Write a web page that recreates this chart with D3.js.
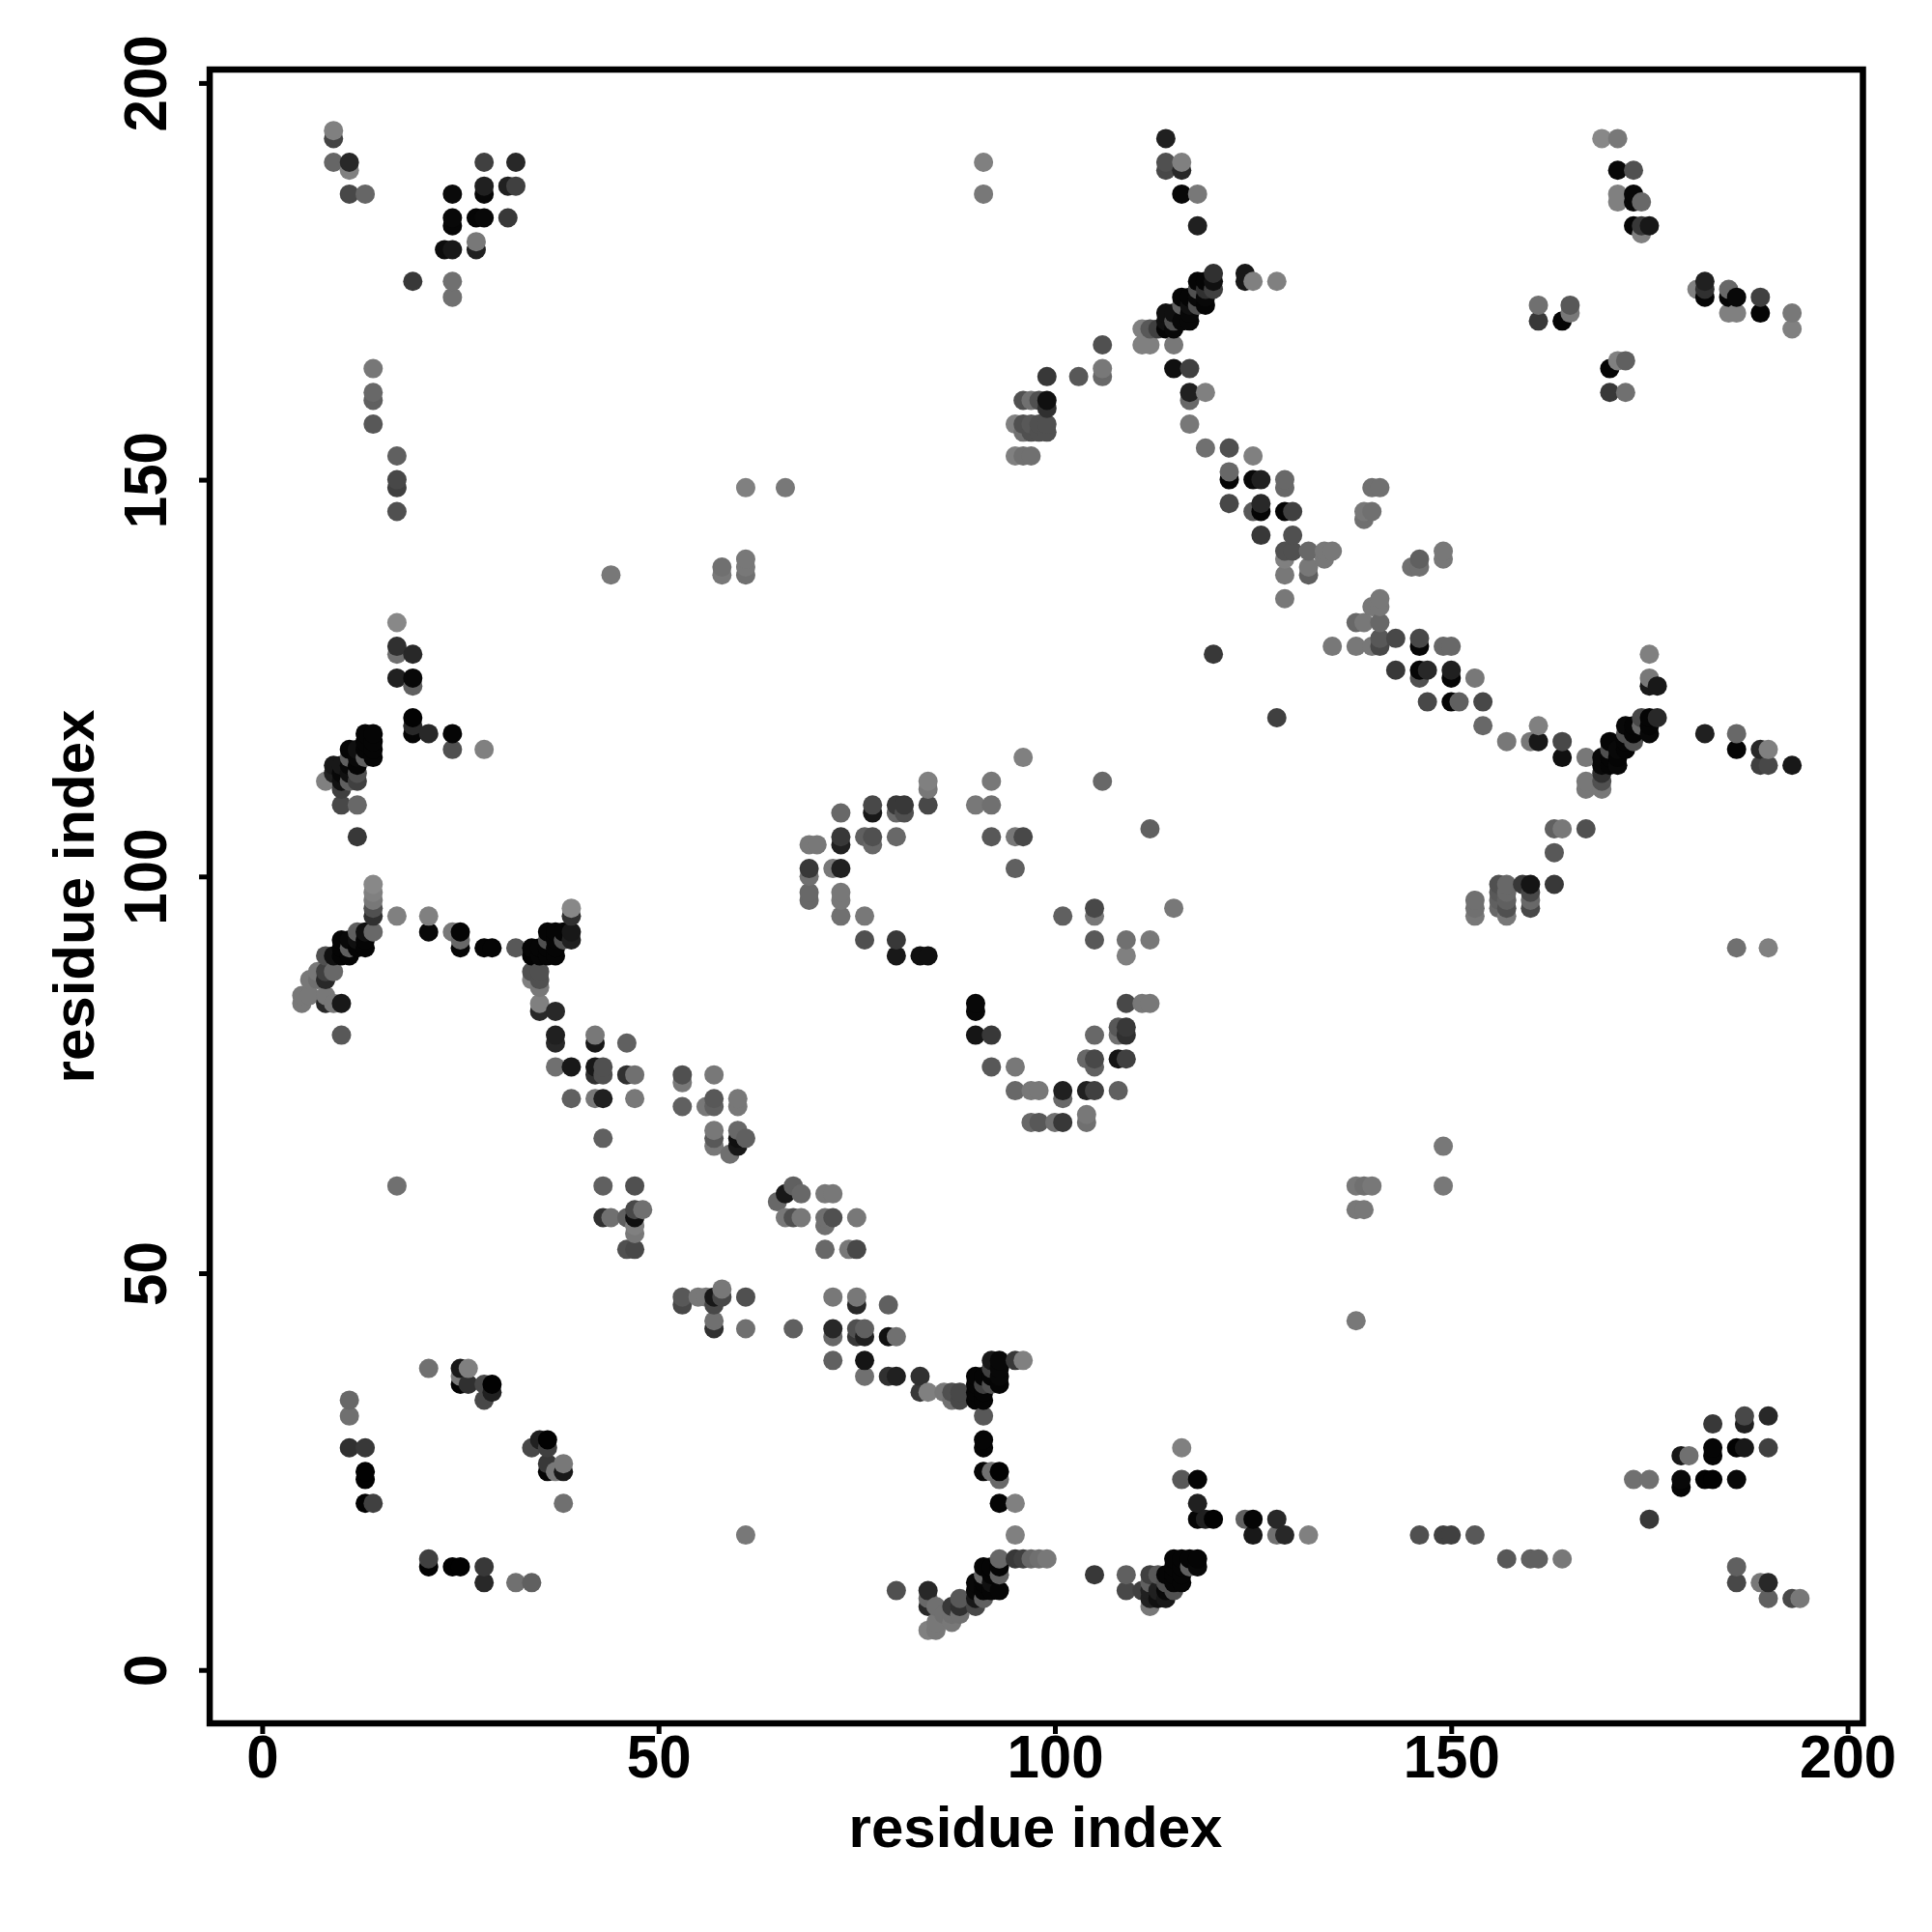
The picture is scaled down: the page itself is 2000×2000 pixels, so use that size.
<!DOCTYPE html>
<html>
<head>
<meta charset="utf-8">
<script src="https://cdn.jsdelivr.net/npm/d3@7"></script>
<style>
html,body{margin:0;padding:0;background:#fff}
svg{display:block}
</style>
</head>
<body>
<svg id="chart" width="2000" height="2000"></svg>
<script>
const tickValuesX = [0, 50, 100, 150, 200];
const tickValuesY = [0, 50, 100, 150, 200];
const xLabel = "residue index";
const yLabel = "residue index";

const columnResidue = [
5,6,7,8,9,10,11,12,13,14,17,19,21,23,24,25,26,27,28,29,31,32,34,35,36,37,38,39,
42,43,44,46,47,48,53,55,56,57,58,59,60,61,65,66,67,68,69,70,71,72,73,74,75,76,77,79,
80,81,83,84,85,86,87,88,90,91,92,93,95,96,97,98,99,100,101,103,104,105,106,108,109,
111,112,113,114,115,116,117,118,119,120,122,124,125,126,128,129,130,132,134,135,138,139,
140,141,143,145,146,147,149,150,151,153,154,156,157,159,160,161,163,164,165,167,169,170,
171,172,173,174,175,176,179,180,181,182,183,185,186,187,189,190,193,194];

const columnPartners = [
[84,85],[85,87],[87,88],[84,85,87,88,90,112],[84,88,90,113,114,190,193,194],
[80,84,90,91,92,109,111,112,113,114],
[28,32,34,90,91,92,112,113,114,115,116,186,189,190],
[91,92,93,105,109,112,113,114,115,116],
[21,24,25,28,91,92,93,115,116,117,118,186],
[21,93,95,96,97,98,99,115,116,117,118,157,160,161,164],
[61,95,125,128,129,132,146,149,150,153],
[118,119,120,124,125,128,175],
[13,14,38,93,95,118],
[179],
[13,93,116,118,173,175,179,182,183,186],
[13,36,37,38,91,92,93],
[36,38],
[179,180,183],
[11,13,34,36,91,116,183,186,187,190],
[35,36,91],
[183,187],
[11,91,187,190],
[11,28,87,88,90,91],
[29,83,84,86,87,88,90,91],
[25,26,28,29,90,91,92,93],
[25,76,79,80,83,90,91,92,93],
[21,25,26,92,93],
[72,76,92,93,95,96],
[72,75,76,79,80],
[57,61,67,72,75,76],
[57,138],
[53,57,75,79],
[53,55,56,57,58,61,72,75],
[58],
[46,47,71,74,75],
[47],
[47,71],
[43,44,46,47,66,67,68,71,72,75],
[47,48,138,139],
[65],
[66,67,68,71,72],
[17,43,47,67,138,139,140,149],
[59],
[57,60,149],
[43,57,61],
[57,60],
[97,98,100,101,104],
[104],
[53,56,57,60],
[39,42,43,47,57,60,101],
[95,97,98,101,104,105,108],
[53],
[42,43,46,47,53,57],
[37,39,42,43,92,95,105],
[104,105,108,109],
[37,42,46],
[10,37,42,90,92,105,108,109],
[108,109],
[35,37,90],
[5,8,9,10,35,90,109,111,112],
[5,6,8],
[7,35],
[6,7,8,34,35],
[7,8,9,34,35],
[8,9,10,11,34,35,36,37,80,83,84,109],
[9,10,11,12,13,25,28,29,32,34,35,36,37,186,190],
[10,11,12,13,25,36,37,38,39,76,80,105,109,112],
[10,12,13,14,21,24,25,36,37,38,39],
[14,17,21,39,73,76,101,105,153,157],
[14,39,105,115,153,156,157,160],
[14,69,73,153,156,157,160],
[14,69,73,156,157,160],
[14,156,157,159,160,163],
[69],
[69,72,73,95],
[163],
[69,70,73,77],
[12,73,76,77,80,92,95,96],
[112,163,164,167],
[73,77,80,81],
[10,12,77,80,81,84,90,92],
[10,84,167,169],
[8,9,10,11,12,84,92,106,167,169],
[9,10,12,169],
[9,10,11,12,169,170,171,189,190,193],
[10,11,12,13,14,96,164,167,169,170,171],
[11,12,13,14,24,28,170,172,173,186,189,190],
[13,14,157,160,161,164,170,171,172,173],
[13,14,19,21,24,172,173,174,175,182,186],
[19,154,161,172,173,174,175],
[19,128,174,175,176],
[147,150,151,154],
[19,175,176],
[17,19,146,150,153,175],
[143,146,147,150],
[17,19,120,175],
[17,135,138,140,141,146,149,150],
[141,143,146],
[17,138,139,141],
[140,141],
[129,141],
[44,58,61,129,132],
[58,61,132,145,146],
[61,129,134,146,149],
[129,130,132,134,135,149],
[126,130],
[139],
[17,125,126,129,130,139,140],
[122,126],
[17,61,66,129,140,141],
[17,122,125,126,129],
[122],
[17,95,96,97,125],
[119,122],
[96,97,98,99],
[14,95,96,97,98,99,117],
[99],
[14,96,97,98,99,117],
[14,117,119,170,172],
[99,103,106],
[14,106,115,117,170],
[171,172],
[106,111,112,115],
[111,112,113,114,115,193],
[114,115,116,117,161,164],
[114,115,116,165,185,186,189,193],
[116,117,118,119,161,165],
[24,117,118,119,182,185,186,189],
[119,120,181,182,185],
[19,24,118,119,120,124,125,128,182],
[120,124],
[23,24,27],
[27],
[174],
[24,118,173,174,175],
[24,27,28,31],
[171,173,174],
[11,13,24,28,91,116,118,171,173],
[28,31,32],
[11,114,116,171,173],
[9,11,28,32,91,114,116],
[9,114,169,171],
[9]];

const columnShades = [
[0x78,0x78],[0x78,0x78],[0x70,0x78],[0x28,0x78,0x28,0x40,0x50,0x80],[0x78,0x68,0x10,0x20,0x18,0x66,0x44,0x80],
[0x58,0x18,0x05,0x05,0x05,0x48,0x40,0x10,0x08,0x18],
[0x30,0x70,0x68,0x05,0x60,0x08,0x60,0x10,0x08,0x60,0x05,0x48,0x80,0x28],
[0x05,0x10,0x60,0x38,0x68,0x40,0x50,0x05,0x08,0x10],
[0x02,0x02,0x02,0x38,0x05,0x05,0x10,0x60,0x05,0x05,0x05,0x66],
[0x40,0x68,0x30,0x50,0x78,0x80,0x88,0x05,0x05,0x05,0x05,0x58,0x60,0x68,0x77],
[0x70,0x80,0x20,0x70,0x30,0x88,0x50,0x40,0x48,0x60],
[0x05,0x28,0x02,0x60,0x08,0x28,0x38],
[0x02,0x40,0x70,0x08,0x80,0x28],
[0x0c],
[0x02,0x78,0x50,0x05,0x70,0x70,0x18,0x06,0x08,0x0a],
[0x02,0x02,0x78,0x18,0x05,0x68,0x05],
[0x30,0x80],
[0x20,0x78,0x05],
[0x28,0x38,0x48,0x48,0x05,0x80,0x08,0x08,0x20,0x40],
[0x20,0x02,0x05],
[0x38,0x20],
[0x70,0x58,0x40,0x28],
[0x60,0x48,0x80,0x50,0x02,0x05],
[0x20,0x28,0x80,0x78,0x50,0x50,0x05,0x05],
[0x05,0x38,0x40,0x02,0x05,0x05,0x50,0x05],
[0x78,0x70,0x28,0x20,0x28,0x05,0x05,0x05,0x05],
[0x70,0x18,0x78,0x50,0x05],
[0x60,0x18,0x20,0x18,0x30,0x88],
[0x78,0x30,0x18,0x18,0x78],
[0x30,0x60,0x60,0x20,0x50,0x50],
[0x70,0x78],
[0x50,0x60,0x30,0x60],
[0x48,0x78,0x80,0x10,0x48,0x50,0x78,0x70],
[0x70],
[0x48,0x58,0x60,0x78,0x50],
[0x78],
[0x78,0x78],
[0x30,0x70,0x48,0x18,0x78,0x58,0x78,0x60,0x58,0x78],
[0x48,0x78,0x78,0x70],
[0x70],
[0x18,0x10,0x68,0x78,0x78],
[0x78,0x70,0x50,0x60,0x70,0x78,0x78,0x80],
[0x68],
[0x78,0x18,0x78],
[0x60,0x50,0x60],
[0x78,0x68],
[0x68,0x68,0x70,0x38,0x78],
[0x78],
[0x68,0x70,0x70,0x78],
[0x60,0x68,0x28,0x78,0x50,0x78,0x78],
[0x70,0x78,0x78,0x20,0x20,0x38,0x68],
[0x78],
[0x38,0x50,0x28,0x78,0x48,0x78],
[0x70,0x15,0x20,0x60,0x50,0x78,0x60],
[0x68,0x50,0x18,0x48],
[0x30,0x10,0x60],
[0x50,0x20,0x70,0x18,0x38,0x68,0x68,0x38],
[0x50,0x38],
[0x38,0x30,0x10],
[0x80,0x28,0x68,0x28,0x80,0x10,0x48,0x78,0x80],
[0x78,0x78,0x70],
[0x70,0x78],
[0x78,0x70,0x38,0x70,0x50],
[0x70,0x30,0x58,0x48,0x48],
[0x48,0x18,0x08,0x08,0x05,0x05,0x05,0x05,0x15,0x08,0x08,0x78],
[0x60,0x05,0x05,0x68,0x05,0x05,0x05,0x05,0x58,0x05,0x05,0x40,0x05,0x78,0x80],
[0x05,0x10,0x05,0x05,0x70,0x50,0x05,0x40,0x18,0x58,0x38,0x58,0x70,0x78],
[0x05,0x60,0x05,0x68,0x05,0x68,0x02,0x05,0x08,0x08,0x08],
[0x38,0x80,0x80,0x38,0x68,0x78,0x60,0x78,0x80,0x80],
[0x40,0x80,0x48,0x80,0x70,0x70,0x50,0x50],
[0x68,0x68,0x78,0x70,0x50,0x58,0x70],
[0x70,0x58,0x78,0x50,0x50,0x50],
[0x78,0x50,0x50,0x30,0x10,0x38],
[0x70],
[0x38,0x68,0x20,0x60],
[0x58],
[0x70,0x78,0x20,0x68],
[0x38,0x40,0x60,0x48,0x68,0x58,0x78,0x48],
[0x68,0x68,0x78,0x50],
[0x60,0x15,0x70,0x58],
[0x48,0x60,0x40,0x30,0x38,0x48,0x80,0x70],
[0x40,0x78,0x80,0x80],
[0x78,0x20,0x20,0x60,0x40,0x78,0x78,0x60,0x80,0x58],
[0x10,0x20,0x58,0x40],
[0x18,0x08,0x50,0x05,0x05,0x10,0x10,0x48,0x50,0x20],
[0x50,0x05,0x05,0x05,0x05,0x78,0x10,0x78,0x08,0x50,0x10],
[0x05,0x05,0x05,0x05,0x58,0x80,0x08,0x60,0x05,0x08,0x28,0x80],
[0x60,0x05,0x78,0x68,0x20,0x40,0x08,0x08,0x10,0x05],
[0x08,0x05,0x05,0x20,0x05,0x50,0x08,0x50,0x05,0x20,0x78],
[0x20,0x70,0x80,0x05,0x08,0x30,0x05],
[0x02,0x38,0x40,0x10,0x30],
[0x48,0x05,0x68,0x50],
[0x60,0x18,0x18],
[0x18,0x05,0x58,0x08,0x80,0x80],
[0x38,0x05,0x28,0x20],
[0x70,0x28,0x40,0x80],
[0x28,0x78,0x78,0x80,0x50,0x05,0x68,0x68],
[0x50,0x50,0x40],
[0x80,0x60,0x78,0x68],
[0x78,0x78],
[0x78,0x78],
[0x78,0x78,0x78,0x78,0x68],
[0x78,0x70,0x78,0x70,0x78],
[0x78,0x78,0x78,0x70,0x70],
[0x48,0x58,0x68,0x78,0x78,0x70],
[0x38,0x48],
[0x70],
[0x50,0x50,0x05,0x05,0x48,0x70,0x60],
[0x48,0x28],
[0x40,0x78,0x78,0x68,0x78,0x78],
[0x40,0x05,0x05,0x20,0x68],
[0x60],
[0x58,0x78,0x70,0x70,0x78],
[0x68,0x48],
[0x68,0x60,0x58,0x50],
[0x58,0x78,0x50,0x60,0x68,0x68,0x78],
[0x38],
[0x60,0x48,0x68,0x48,0x15,0x78],
[0x60,0x18,0x80,0x38,0x70],
[0x38,0x58,0x60],
[0x78,0x78,0x10,0x48,0x05],
[0x78,0x58],
[0x50,0x78,0x78,0x78],
[0x78,0x50,0x30,0x08,0x08,0x88],
[0x05,0x05,0x50,0x05,0x38,0x05],
[0x08,0x05,0x08,0x80,0x80,0x80,0x08,0x78],
[0x05,0x05,0x50,0x08,0x70,0x60],
[0x70,0x50,0x05,0x05,0x05,0x08,0x08,0x50],
[0x68,0x48,0x80,0x38,0x68],
[0x38,0x70,0x08,0x05,0x05,0x18,0x78,0x80,0x18],
[0x28,0x18],
[0x05,0x08,0x18],
[0x70],
[0x80],
[0x02,0x20,0x05,0x30,0x20],
[0x02,0x05,0x05,0x38],
[0x80,0x05,0x68],
[0x48,0x60,0x08,0x02,0x70,0x05,0x68,0x80,0x08],
[0x18,0x20,0x48],
[0x78,0x40,0x28,0x05,0x40],
[0x60,0x28,0x40,0x28,0x80,0x48,0x80],
[0x48,0x18,0x80,0x78],
[0x78]];

const contacts = columnResidue.flatMap((residue, c) =>
  columnPartners[c].map((partner, k) => ({residue, partner, shade: columnShades[c][k]})));

const svg = d3.select("#chart");
const x = d3.scaleLinear().domain([-6.62, 201.94]).range([217.08, 1928.5]);
const y = d3.scaleLinear().domain([-6.73, 201.69]).range([1784, 72]);
const font = "'Liberation Sans', Arial, sans-serif";

svg.append("g").selectAll("circle").data(contacts).join("circle")
  .attr("cx", d => x(d.residue))
  .attr("cy", d => y(d.partner))
  .attr("r", 10)
  .attr("fill", d => d3.rgb(d.shade, d.shade, d.shade));

const gx = svg.append("g").attr("transform", `translate(0,${y.range()[0]})`)
  .call(d3.axisBottom(x).tickValues(tickValuesX).tickSize(11).tickSizeOuter(0).tickFormat(d3.format("d")));
const gy = svg.append("g").attr("transform", `translate(${x.range()[0]},0)`)
  .call(d3.axisLeft(y).tickValues(tickValuesY).tickSize(11).tickSizeOuter(0).tickFormat(d3.format("d")));

[gx, gy].forEach(g => {
  g.select(".domain").remove();
  g.selectAll(".tick line").attr("stroke", "#000").attr("stroke-width", 5);
  g.selectAll(".tick text").attr("fill", "#000")
    .style("font-family", font).style("font-weight", "bold").style("font-size", "62px");
});
gx.selectAll(".tick text").attr("dy", null).attr("y", 56).attr("text-anchor", "middle")
  .attr("transform", "scale(0.968,1)");
gy.selectAll(".tick text").attr("dy", null).attr("x", null).attr("y", null)
  .attr("text-anchor", "middle").attr("transform", "translate(-45,0) rotate(-90) scale(0.968,1)");

svg.append("rect")
  .attr("x", x.range()[0]).attr("y", y.range()[1])
  .attr("width", x.range()[1] - x.range()[0]).attr("height", y.range()[0] - y.range()[1])
  .attr("fill", "none").attr("stroke", "#000").attr("stroke-width", 6.5);

svg.append("text").text(xLabel)
  .attr("x", 1072).attr("y", 1912).attr("text-anchor", "middle")
  .style("font-family", font).style("font-weight", "bold").style("font-size", "60px");
svg.append("text").text(yLabel)
  .attr("transform", "translate(97,928) rotate(-90)").attr("text-anchor", "middle")
  .style("font-family", font).style("font-weight", "bold").style("font-size", "60px");
</script>
</body>
</html>
